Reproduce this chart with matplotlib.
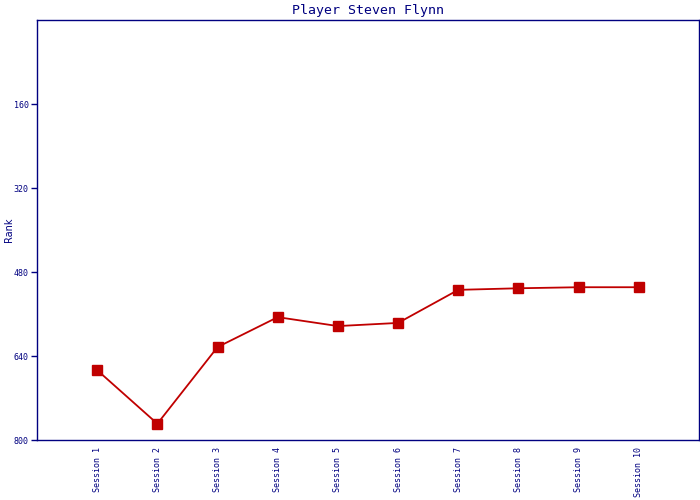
import numpy as np
import matplotlib
matplotlib.use("Agg")
import matplotlib.pyplot as plt

sessions = ["Session %d" % i for i in range(1, 11)]
ranks = [667, 769, 623, 566, 583, 577, 514, 511, 509, 509]
y_ticks = [160, 320, 480, 640, 800]

navy = "#000080"
red = "#c00000"

fig = plt.figure(figsize=(7, 5), dpi=100)
ax = fig.add_axes([37 / 700, 60 / 500, 662 / 700, 420 / 500])

x = np.arange(1, len(sessions) + 1)
ax.plot(x, ranks, color=red, lw=1.3, marker="s", markersize=7, markeredgecolor=red)

ax.set_xlim(0, len(sessions) + 1)
ax.set_ylim(800, 0)
ax.set_yticks(y_ticks)
ax.set_yticklabels([str(t) for t in y_ticks], family="DejaVu Sans Mono", fontsize=6, color=navy)
ax.set_xticks(x)
ax.set_xticklabels(sessions, rotation=90, family="DejaVu Sans Mono", fontsize=6, color=navy)
ax.tick_params(axis="x", length=0, pad=5)
ax.tick_params(axis="y", length=4, width=1, color=navy, pad=2)

for s in ax.spines.values():
    s.set_color(navy)
    s.set_linewidth(1)

ax.set_ylabel("Rank", fontsize=7, color=navy, va="center")
ax.yaxis.set_label_coords(-0.042, 0.5)
ax.set_title("Player Steven Flynn", family="DejaVu Sans Mono", fontsize=9.5, color=navy, pad=4)

fig.savefig("out.png", dpi=100)
